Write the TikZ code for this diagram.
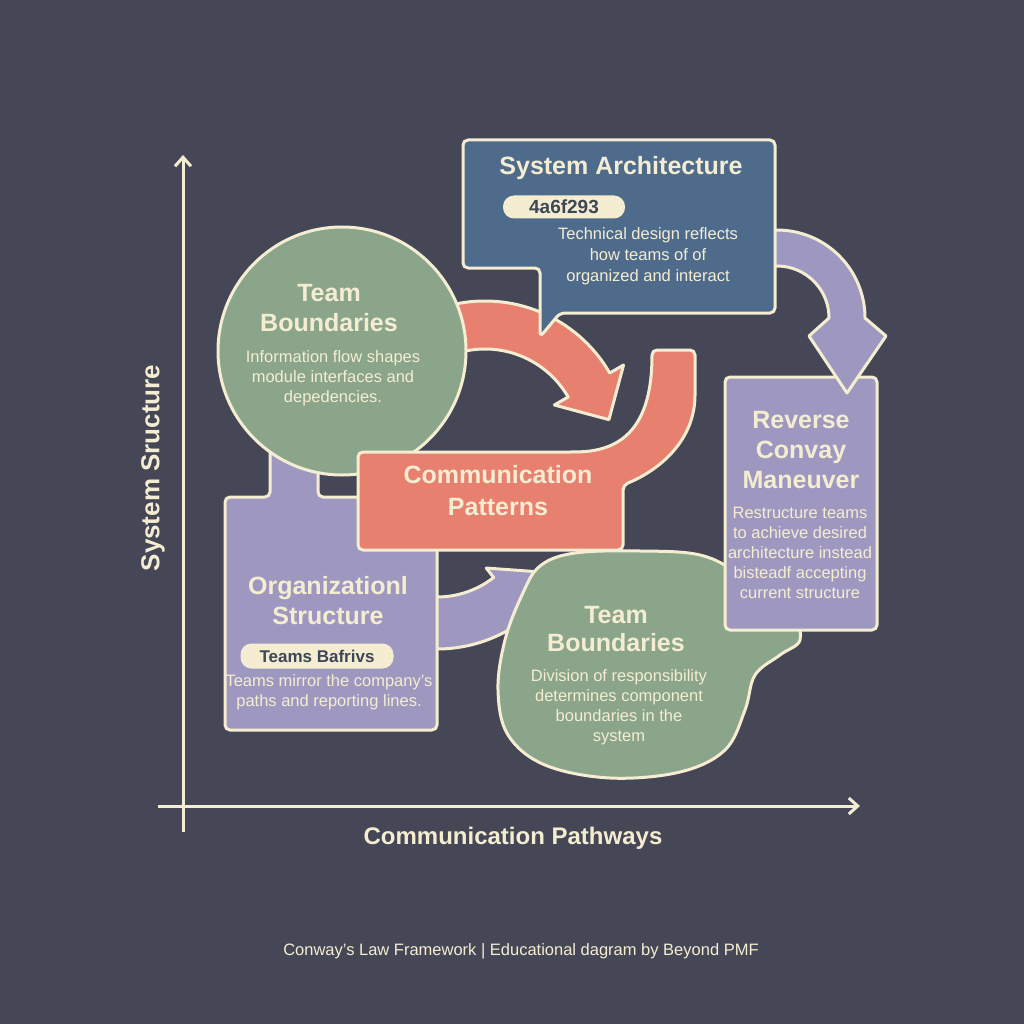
\documentclass[tikz,border=0pt]{standalone}
\usepackage{fontspec}
\setmainfont{Liberation Sans}
\usetikzlibrary{arrows.meta,calc}
\definecolor{bgslate}{HTML}{454756}
\definecolor{cream}{HTML}{F4EDD2}
\definecolor{archblue}{HTML}{4F6B8C}
\definecolor{teamgreen}{HTML}{8BA58A}
\definecolor{commred}{HTML}{E88070}
\definecolor{orgpurple}{HTML}{9E98C0}
\definecolor{pilltxt}{HTML}{3E4757}

\begin{document}
\begin{tikzpicture}[x=1pt, y=1pt, yscale=-1,
    outl/.style={draw=cream, line width=3pt, line join=round},
    axis/.style={draw=cream, line width=3pt, -{Straight Barb[length=9pt,width=16pt]}},
    ttl/.style={text=cream, align=center, font=\fontsize{25}{30}\selectfont\bfseries},
    txt/.style={text=cream, align=center, font=\fontsize{16.5}{20}\selectfont},
    pill/.style={fill=cream, rounded corners=11pt, text=pilltxt, inner sep=0pt}]

    % Background
    \fill[bgslate] (0,0) rectangle (1024,1024);
    \useasboundingbox (0,0) rectangle (1024,1024);

    % Axes
    \coordinate (yFoot) at (183,832);
    \coordinate (yHead) at (183,155);
    \coordinate (xFoot) at (158,806);
    \coordinate (xHead) at (860,806);
    \draw[axis] (yFoot) -- (yHead);
    \draw[axis] (xFoot) -- (xHead);
    \node[text=cream, font=\fontsize{26}{30}\selectfont\bfseries, rotate=90] (yLabel) at (153,468) {System Sructure};
    \node[text=cream, font=\fontsize{24}{28}\selectfont\bfseries] (xLabel) at (513,838) {Communication Pathways};

    % Arrow from organization to team boundaries
    \coordinate (lowC) at (437,505);
    \draw[outl, fill=orgpurple] ($(lowC)+(95:144)$) arc[start angle=95, end angle=52, radius=144]
        -- ($(lowC)+(52:156)$) -- ($(lowC)+(52:118)+(-38:42)$) -- ($(lowC)+(52:80)$)
        -- ($(lowC)+(52:92)$) arc[start angle=52, end angle=95, radius=92] -- cycle;

    % Organizational structure box
    \draw[outl, fill=orgpurple, rounded corners=5pt] (225,497) -- (270,497) -- (270,430) -- (318,430)
        -- (318,497) -- (437,497) -- (437,730) -- (225,730) -- cycle;

    % Arrow from team circle to communication
    \coordinate (redC) at (485,445);
    \draw[outl, fill=commred] ($(redC)+(-105:144)$) arc[start angle=-105, end angle=-30, radius=144]
        -- ($(redC)+(-30:160)$) -- ($(redC)+(-30:120)+(60:40)$) -- ($(redC)+(-30:80)$)
        -- ($(redC)+(-30:96)$) arc[start angle=-30, end angle=-105, radius=96] -- cycle;

    % Team boundaries circle
    \draw[outl, fill=teamgreen] (342,351) circle[radius=124];

    % Communication patterns box
    \draw[outl, fill=commred, rounded corners=5pt] (358,452) -- (575,452)
        .. controls (635,450) and (652,410) .. (652,350) -- (695,350) -- (695,390)
        .. controls (695,440) and (660,470) .. (623,485) -- (623,550) -- (358,550) -- cycle;

    % Lower team boundaries blob
    \draw[outl, fill=teamgreen] plot[smooth cycle, tension=0.6] coordinates {
        (540,566) (575,553) (640,551) (700,555) (740,575) (790,615) (800,640) (780,655)
        (755,675) (745,710) (725,750) (680,772) (610,778) (545,765) (508,735) (498,690)
        (505,640) (522,595)};

    % Reverse maneuver box
    \draw[outl, fill=orgpurple, rounded corners=5pt] (725,377) rectangle (877,630);

    % Arrow from architecture to reverse maneuver
    \coordinate (purC) at (777,318);
    \draw[outl, fill=orgpurple] ($(purC)+(-95:88)$) arc[start angle=-95, end angle=0, radius=88]
        -- (886,336) -- (847,393) -- (809,336)
        -- ($(purC)+(0:52)$) arc[start angle=0, end angle=-95, radius=52] -- cycle;

    % System architecture callout
    \draw[outl, fill=archblue, rounded corners=5pt] (463,140) -- (775,140) -- (775,313) -- (560,313)
        -- (540,337) -- (540,268) -- (463,268) -- cycle;

    % Texts
    \node[ttl] (archTitle) at (621,168) {System Architecture};
    \node[pill, minimum width=122pt, minimum height=23pt, font=\fontsize{19}{22}\selectfont\bfseries] (archTag) at (564,207) {4a6f293};
    \node[txt, font=\fontsize{16.5}{21}\selectfont] (archText) at (648,256) {Technical design reflects\\how teams of of\\organized and interact};

    \node[ttl] (teamTitle) at (329,308) {Team\\Boundaries};
    \node[txt] (teamText) at (333,378) {Information flow shapes\\module interfaces and\\depedencies.};

    \node[ttl, font=\fontsize{25}{32}\selectfont\bfseries] (commTitle) at (498,491) {Communication\\Patterns};

    \node[ttl] (orgTitle) at (328,601) {Organizationl\\Structure};
    \node[pill, minimum width=153pt, minimum height=25pt, font=\fontsize{17}{20}\selectfont\bfseries] (orgTag) at (317,656) {Teams Bafrivs};
    \node[txt] (orgText) at (329,692) {Teams mirror the company's\\paths and reporting lines.};

    \node[ttl, font=\fontsize{25}{28}\selectfont\bfseries] (edgeTitle) at (616,629) {Team\\Boundaries};
    \node[txt] (edgeText) at (619,707) {Division of responsibility\\determines component\\boundaries in the\\system};

    \node[ttl] (revTitle) at (801,450) {Reverse\\Convay\\Maneuver};
    \node[txt] (revText) at (800,553) {Restructure teams\\to achieve desired\\architecture instead\\bisteadf accepting\\current structure};

    \node[text=cream, font=\fontsize{16.5}{20}\selectfont] (credit) at (521,951) {Conway's Law Framework | Educational dagram by Beyond PMF};

\end{tikzpicture}
\end{document}
